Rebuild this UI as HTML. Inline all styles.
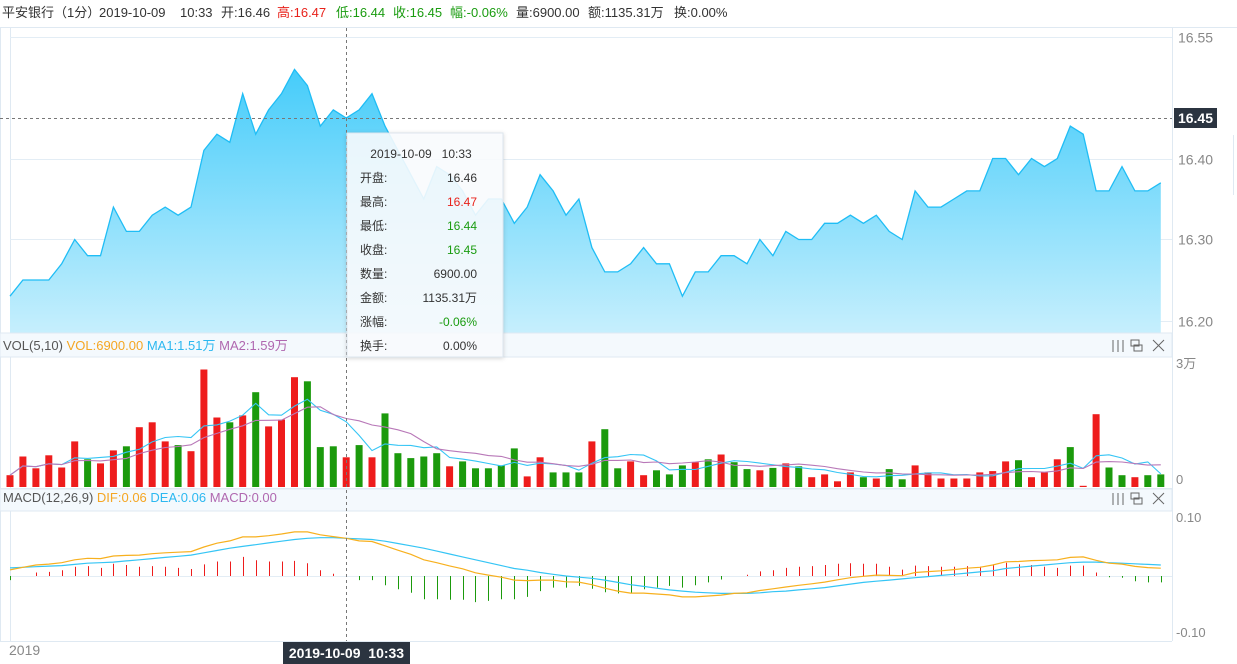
<!DOCTYPE html>
<html><head><meta charset="utf-8"><style>
html,body{margin:0;padding:0;background:#fff;width:1237px;height:664px;overflow:hidden;font-family:"Liberation Sans","Noto Sans CJK SC",sans-serif}
svg{display:block}
</style></head><body>
<svg id="c" width="1237" height="664" xmlns="http://www.w3.org/2000/svg" font-family="Liberation Sans, Noto Sans CJK SC, sans-serif">
<defs>
<linearGradient id="pg" x1="0" y1="0" x2="0" y2="1"><stop offset="0" stop-color="#45ccfa"/><stop offset="1" stop-color="#c6effd"/></linearGradient>
<filter id="sh" x="-10%" y="-10%" width="120%" height="120%"><feDropShadow dx="0" dy="1" stdDeviation="2" flood-color="#000" flood-opacity="0.18"/></filter>
</defs>
<g id="top" font-size="13">
<text y="17" fill="#333"><tspan x="2">平安银行（1分）</tspan><tspan x="99">2019-10-09</tspan><tspan x="180">10:33</tspan><tspan x="221">开:16.46</tspan><tspan x="277" fill="#e8221b">高:16.47</tspan><tspan x="336" fill="#1a9c10">低:16.44</tspan><tspan x="393" fill="#1a9c10">收:16.45</tspan><tspan x="450" fill="#1a9c10">幅:-0.06%</tspan><tspan x="516">量:6900.00</tspan><tspan x="588">额:1135.31万</tspan><tspan x="674">换:0.00%</tspan></text>
</g>
<g id="frame" stroke="#dfe9f2" fill="none">
<line x1="0.5" y1="27" x2="0.5" y2="641"/>
<line x1="10.5" y1="27" x2="10.5" y2="641"/>
<line x1="1172.5" y1="27" x2="1172.5" y2="641"/>
<line x1="0" y1="27.5" x2="1237" y2="27.5"/>
<line x1="1233.5" y1="135" x2="1233.5" y2="195"/>
</g>
<g id="grid"></g>
<path id="area" fill="url(#pg)"/>
<path id="pline" fill="none" stroke="#1fbdf5" stroke-width="1.3"/>
<g id="paxis" font-size="14" fill="#888"></g>
<rect x="0" y="333" width="1172" height="24" fill="#f4f9fd" stroke="#dfe9f2"/>
<text x="3" y="350" font-size="13" fill="#555">VOL(5,10) <tspan fill="#f5a623">VOL:6900.00</tspan> <tspan fill="#2cb8f0">MA1:1.51万</tspan> <tspan fill="#b068b0">MA2:1.59万</tspan></text>
<g id="vol"></g>
<path id="ma5" fill="none" stroke="#35c5f5" stroke-width="1.1"/>
<path id="ma10" fill="none" stroke="#b878b8" stroke-width="1.1"/>
<line x1="0" y1="488.5" x2="1172" y2="488.5" stroke="#dfe9f2"/>
<text x="1176" y="368" font-size="13" fill="#888">3万</text>
<text x="1176" y="484" font-size="13" fill="#888">0</text>
<rect x="0" y="489" width="1172" height="22" fill="#f4f9fd" stroke="#dfe9f2"/>
<text x="3" y="502" font-size="13" fill="#555">MACD(12,26,9) <tspan fill="#f5a623">DIF:0.06</tspan> <tspan fill="#2cb8f0">DEA:0.06</tspan> <tspan fill="#b068b0">MACD:0.00</tspan></text>
<line x1="10" y1="576.5" x2="1172" y2="576.5" stroke="#e3edf5"/>
<g id="macd"></g>
<path id="dea" fill="none" stroke="#35c5f5" stroke-width="1.2"/>
<path id="dif" fill="none" stroke="#f7b01e" stroke-width="1.2"/>
<line x1="0" y1="641.5" x2="1172" y2="641.5" stroke="#dfe9f2"/>
<text x="1176" y="522" font-size="13" fill="#888">0.10</text>
<text x="1176" y="637" font-size="13" fill="#888">-0.10</text>
<text x="9" y="655" font-size="14" fill="#888">2019</text>
<g stroke="#666" fill="none" stroke-width="1">
<line x1="1113" y1="340" x2="1113" y2="352"/><line x1="1118" y1="340" x2="1118" y2="352"/><line x1="1123" y1="340" x2="1123" y2="352"/>
<rect x="1131" y="340" width="8" height="6"/><rect x="1134" y="345" width="8" height="6"/>
<path d="M1153 340 L1164 351 M1164 340 L1153 351"/>
</g>
<g stroke="#666" fill="none" stroke-width="1">
<line x1="1113" y1="493" x2="1113" y2="505"/><line x1="1118" y1="493" x2="1118" y2="505"/><line x1="1123" y1="493" x2="1123" y2="505"/>
<rect x="1131" y="493" width="8" height="6"/><rect x="1134" y="498" width="8" height="6"/>
<path d="M1153 493 L1164 504 M1164 493 L1153 504"/>
</g>
<line x1="0" y1="118.5" x2="1172" y2="118.5" stroke="#777" stroke-dasharray="3,3"/>
<line x1="346.5" y1="28" x2="346.5" y2="641" stroke="#777" stroke-dasharray="3,3"/>
<rect x="1174" y="108" width="43" height="20" fill="#2b3440"/>
<text x="1195.5" y="123" font-size="14" font-weight="bold" fill="#fff" text-anchor="middle">16.45</text>
<rect x="283" y="642" width="127" height="22" fill="#2b3440"/>
<text x="346.5" y="658" font-size="14" font-weight="bold" fill="#fff" text-anchor="middle" style="white-space:pre">2019-10-09  10:33</text>
<g font-size="12" fill="#333">
<rect x="347" y="133" width="156" height="224" fill="#fafdff" fill-opacity="0.88" stroke="#dde6ee" filter="url(#sh)"/>
<text x="421" y="158" text-anchor="middle" style="white-space:pre">2019-10-09   10:33</text>
<text x="360" y="182">开盘:</text><text x="477" y="182" text-anchor="end">16.46</text>
<text x="360" y="206">最高:</text><text x="477" y="206" text-anchor="end" fill="#e8221b">16.47</text>
<text x="360" y="230">最低:</text><text x="477" y="230" text-anchor="end" fill="#1a9c10">16.44</text>
<text x="360" y="254">收盘:</text><text x="477" y="254" text-anchor="end" fill="#1a9c10">16.45</text>
<text x="360" y="278">数量:</text><text x="477" y="278" text-anchor="end">6900.00</text>
<text x="360" y="302">金额:</text><text x="477" y="302" text-anchor="end">1135.31万</text>
<text x="360" y="326">涨幅:</text><text x="477" y="326" text-anchor="end" fill="#1a9c10">-0.06%</text>
<text x="360" y="350">换手:</text><text x="477" y="350" text-anchor="end">0.00%</text>
</g>
</svg>
<script>
const prices=[16.23,16.25,16.25,16.25,16.27,16.30,16.28,16.28,16.34,16.31,16.31,16.33,16.34,16.33,16.34,16.41,16.43,16.42,16.48,16.43,16.46,16.48,16.51,16.49,16.44,16.46,16.45,16.46,16.48,16.44,16.41,16.38,16.35,16.39,16.38,16.36,16.33,16.35,16.35,16.32,16.34,16.38,16.36,16.33,16.35,16.29,16.26,16.26,16.27,16.29,16.27,16.27,16.23,16.26,16.26,16.28,16.28,16.27,16.30,16.28,16.31,16.30,16.30,16.32,16.32,16.33,16.32,16.33,16.31,16.30,16.36,16.34,16.34,16.35,16.36,16.36,16.40,16.40,16.38,16.40,16.39,16.40,16.44,16.43,16.36,16.36,16.39,16.36,16.36,16.37];
const volumes=[0.29,0.75,0.46,0.78,0.48,1.12,0.68,0.58,0.90,1.00,1.47,1.59,1.12,1.03,0.88,2.89,1.71,1.59,1.76,2.33,1.49,1.66,2.70,2.60,0.98,1.00,0.73,1.03,0.73,1.81,0.83,0.71,0.75,0.83,0.51,0.63,0.46,0.46,0.53,0.95,0.26,0.73,0.36,0.36,0.36,1.12,1.42,0.46,0.63,0.29,0.41,0.31,0.53,0.61,0.68,0.80,0.61,0.44,0.41,0.47,0.58,0.51,0.24,0.31,0.14,0.36,0.24,0.21,0.44,0.19,0.53,0.36,0.21,0.21,0.21,0.36,0.39,0.63,0.66,0.24,0.36,0.68,0.98,0.03,1.79,0.48,0.29,0.24,0.29,0.31];
const volUp="rrrrrrgrrgrrrgrrrgrgrrrgggrgrgggggrgggggrrgggrgg rrgggrgrggrgrgrrrrgrggrrrrrrrrgrrrgrrggr".replace(/ /g,'');
const dea=[14,15,16,17,18,20,22,23,24,26,28,30,32,34,36,40,44,48,51,54,57,60,63,65,66,66,65,64,63,60,56,52,48,43,38,33,28,23,18,13,10,6,3,0,-2,-4,-7,-11,-15,-18,-21,-24,-26,-28,-29,-30,-30,-30,-29,-27,-26,-24,-22,-20,-17,-14,-11,-9,-7,-5,-3,-1,1,3,5,7,9,13,15,17,19,21,23,24,24,23,22,21,20,19];
const hist=[-7,0,6,7,10,16,17,14,21,19,16,17,16,14,12,20,25,25,33,27,25,25,26,22,10,4,0,-7,-7,-16,-23,-29,-40,-40,-41,-41,-45,-43,-40,-40,-36,-26,-20,-20,-17,-22,-28,-30,-29,-23,-20,-17,-20,-16,-11,-6,0,2,8,10,14,16,17,19,21,22,21,21,16,11,18,17,16,16,17,16,20,23,20,19,16,14,18,18,6,-2,-3,-9,-11,-11];
const priceTicks=["16.55","16.40","16.30","16.20"];

const NS="http://www.w3.org/2000/svg";
const xAt=i=>10+12.93*i;
const yP=p=>118+(16.45-p)*810;
const yV=v=>487-v*40.67;
const yM=m=>576-m*0.58;
function mk(tag,attrs,parent){const e=document.createElementNS(NS,tag);for(const k in attrs)e.setAttribute(k,attrs[k]);parent.appendChild(e);return e;}

const grid=document.getElementById('grid'),pax=document.getElementById('paxis');
priceTicks.forEach(t=>{const y=Math.round(yP(+t))+0.5;
 const l=mk('line',{x1:10,x2:1172,y1:y,y2:y,stroke:'#e3edf5'},grid);
 
 
 const tx=mk('text',{x:1178,y:y+5},pax);tx.textContent=t;
 
 });

let d='';prices.forEach((p,i)=>{d+=(i?'L':'M')+xAt(i).toFixed(1)+' '+yP(p).toFixed(1);});
document.getElementById('pline').setAttribute('d',d);
document.getElementById('area').setAttribute('d',d+'L'+xAt(prices.length-1).toFixed(1)+' 333L'+xAt(0)+' 333Z');

const vg=document.getElementById('vol');
volumes.forEach((v,i)=>{const y=yV(v);
 const r=mk('rect',{x:(xAt(i)-3.5).toFixed(1),y:y.toFixed(1),width:7,height:Math.max(1,487-y).toFixed(1),fill:volUp[i]==='r'?'#ee1c1c':'#1b9a0c'},vg);
 
 });
function ma(n){return volumes.map((v,i)=>{const s=volumes.slice(Math.max(0,i-n+1),i+1);return s.reduce((a,b)=>a+b,0)/s.length;});}
function path(arr,fy){return arr.map((v,i)=>(i?'L':'M')+xAt(i).toFixed(1)+' '+fy(v).toFixed(1)).join('');}
document.getElementById('ma5').setAttribute('d',path(ma(5),yV));
document.getElementById('ma10').setAttribute('d',path(ma(10),yV));

const mg=document.getElementById('macd');
hist.forEach((h,i)=>{if(h===0)return;const x=Math.round(xAt(i))+0.5;
 const l=mk('line',{x1:x,x2:x,y1:576,y2:yM(h).toFixed(1),stroke:h>0?'#ee1c1c':'#1b9a0c','stroke-width':1},mg);
 
 });
const dif=dea.map((v,i)=>v+hist[i]/2);
document.getElementById('dea').setAttribute('d',path(dea,yM));
document.getElementById('dif').setAttribute('d',path(dif,yM));
</script>
</body></html>
